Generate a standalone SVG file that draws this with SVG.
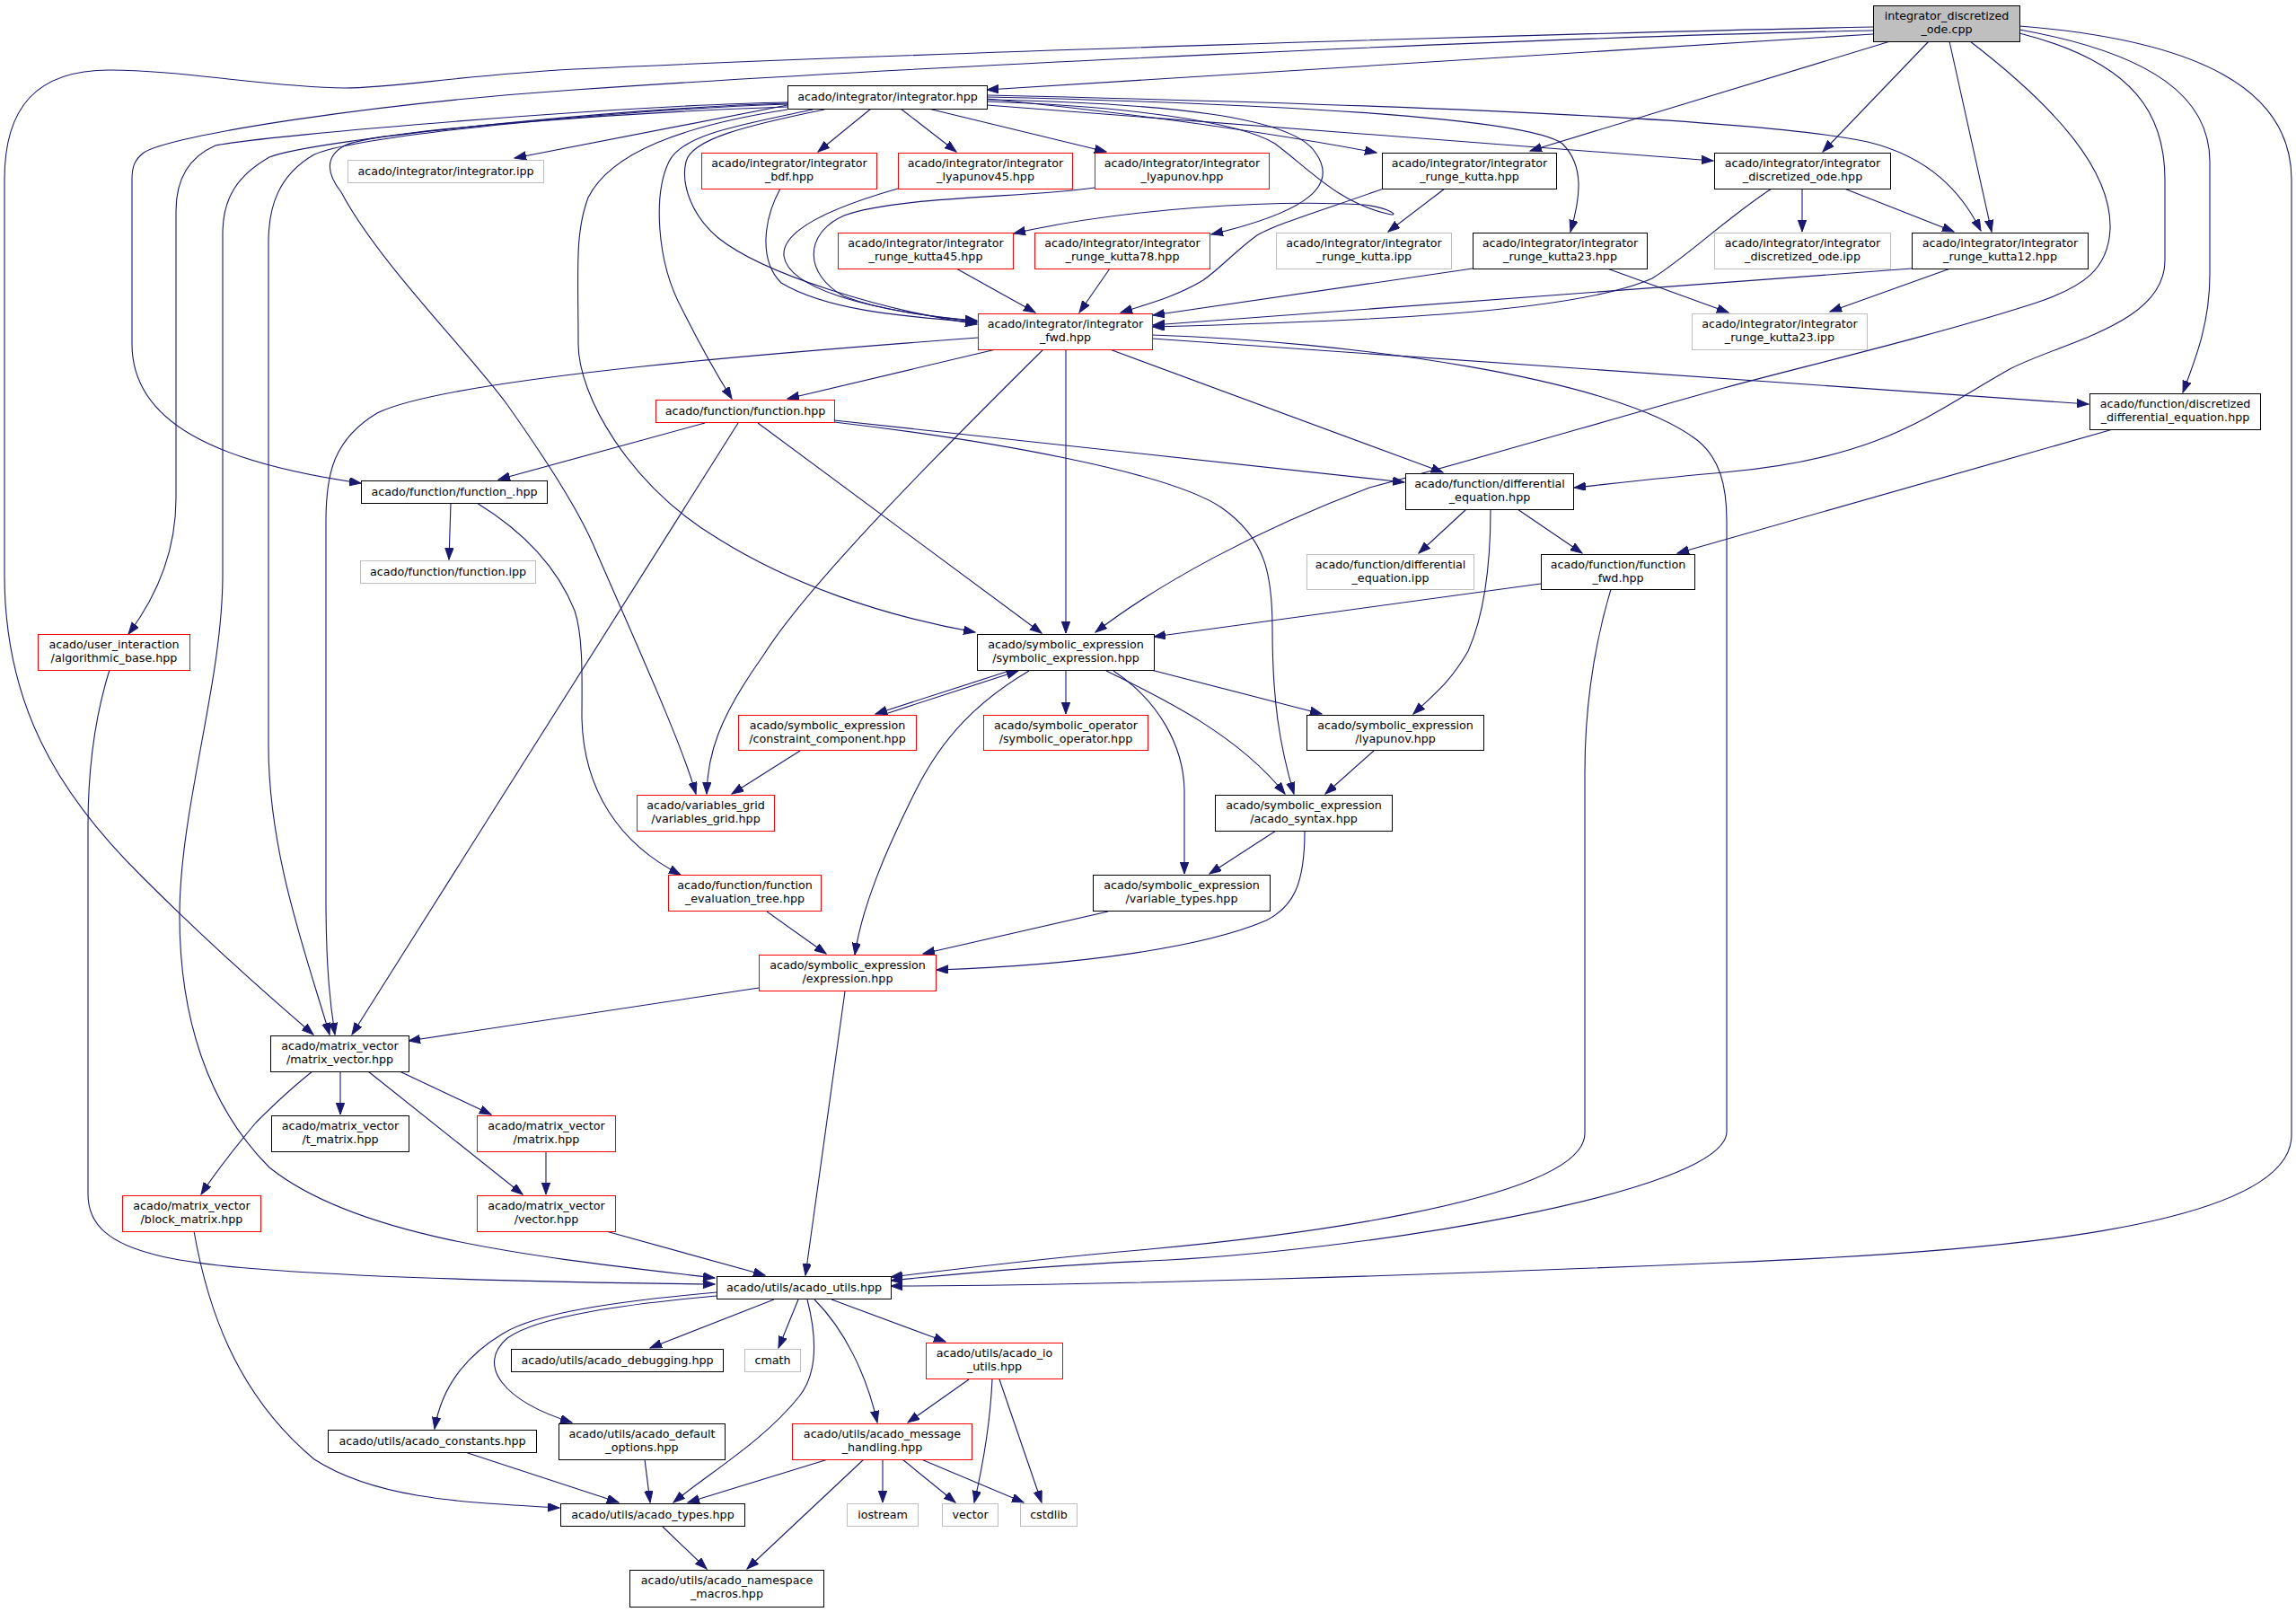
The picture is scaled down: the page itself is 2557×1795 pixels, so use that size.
<svg xmlns="http://www.w3.org/2000/svg" width="2557" height="1795" viewBox="0 0 2557 1795">
<style>
.n rect{fill:#fff;stroke:#000;stroke-width:1}
.n.r rect{stroke:#f00}
.n.g rect{stroke:#bfbfbf}
.n.root rect{fill:#bfbfbf;stroke:#000}
text{font-family:"DejaVu Sans",sans-serif;font-size:12.7px;text-anchor:middle;fill:#000}
#edges path{fill:none;stroke:#191970;stroke-width:1.1;marker-end:url(#a)}
</style>
<defs>
<marker id="a" markerWidth="14" markerHeight="10" refX="13" refY="4.7" orient="auto" markerUnits="userSpaceOnUse">
<path d="M0,0 L13,4.7 L0,9.4 z" fill="#191970" stroke="#191970" stroke-width="1"/>
</marker>
</defs>
<rect x="0" y="0" width="2557" height="1795" fill="#fff"/>
<g id="edges">
<path d="M2086,38 L1099,100"/>
<path d="M2086,30 C1700,38 1000,60 640,77 C510,84 440,98 384,98 C300,97 200,78 122,78 C40,78 5,120 5,200 L5,640 C5,780 60,880 160,978 C230,1048 300,1110 349,1152"/>
<path d="M2086,34 C1700,42 1000,75 640,100 C420,115 190,150 160,170 C150,178 147,185 147,200 L147,383 C147,470 240,515 402,538"/>
<path d="M2105,46 L1704,168"/>
<path d="M2148,46 L2030,169"/>
<path d="M2171,46 L2218,258"/>
<path d="M2194,46 C2290,120 2352,190 2350,255 C2348,300 2320,320 2265,338 C2150,375 2000,410 1920,432 C1800,465 1650,510 1525,543 C1400,590 1290,650 1220,704"/>
<path d="M2249,29 C2450,45 2552,100 2552,200 L2552,1264 C2552,1370 2200,1395 1920,1406 C1600,1420 1200,1432 992,1432"/>
<path d="M2249,37 C2380,70 2411,130 2411,200 L2411,290 C2411,360 2300,380 2240,410 C2150,460 2100,510 1920,526 C1850,532 1800,538 1753,543"/>
<path d="M2249,33 C2400,60 2461,110 2461,180 L2461,306 C2461,360 2445,400 2431,437"/>
<path d="M877,117 L573,176"/>
<path d="M970,121 L911,169"/>
<path d="M1003,121 L1065,169"/>
<path d="M1034,121 L1232,169"/>
<path d="M1099,110 C1250,125 1400,145 1533,170"/>
<path d="M1099,113 C1250,118 1380,135 1420,160 C1460,190 1490,225 1545,238 C1560,242 1550,232 1520,228 C1420,222 1250,232 1129,260"/>
<path d="M1099,111 C1300,115 1440,130 1465,170 C1490,205 1460,235 1349,261"/>
<path d="M1099,108 C1400,115 1700,130 1740,160 C1765,185 1760,220 1749,258"/>
<path d="M1099,117 L1908,179"/>
<path d="M1099,106 C1500,115 1950,130 2080,158 C2150,175 2185,215 2206,257"/>
<path d="M918,122 C830,140 770,155 764,180 C758,205 770,240 800,265 C850,305 980,345 1088,361"/>
<path d="M905,122 C820,140 760,150 745,180 C728,215 730,290 760,345 C780,385 800,420 815,444"/>
<path d="M877,119 C700,125 420,145 384,162 C360,175 365,195 380,214 C420,290 520,390 563,448 C600,500 640,560 660,605 C710,720 760,830 775,884"/>
<path d="M877,122 C760,140 680,170 655,220 C640,260 644,300 644,383 C644,440 700,540 800,600 C880,650 980,685 1086,704"/>
<path d="M877,114 C700,117 300,150 240,162 C210,175 196,200 196,235 L196,555 C196,620 170,670 143,706"/>
<path d="M877,115 C700,120 350,155 300,175 C265,195 248,220 248,260 L248,640 C248,760 200,900 200,1020 C200,1130 230,1230 300,1300 C400,1380 600,1400 796,1423"/>
<path d="M877,116 C700,122 400,150 350,172 C310,195 299,230 299,270 L299,830 C299,950 340,1060 367,1152"/>
<path d="M1089,376 C900,390 500,420 420,460 C370,490 363,530 363,580 L363,1000 C363,1080 368,1120 373,1152"/>
<path d="M822,471 L392,1152"/>
<path d="M785,471 L555,534"/>
<path d="M844,471 L1160,705"/>
<path d="M929,468 L1564,537"/>
<path d="M929,470 C1100,490 1300,525 1360,565 C1410,600 1417,640 1417,700 C1417,780 1425,830 1441,884"/>
<path d="M1109,389 L877,444"/>
<path d="M1162,389 C1050,500 900,650 850,730 C800,800 788,840 787,884"/>
<path d="M1187,389 L1187,705"/>
<path d="M1236,389 L1607,526"/>
<path d="M1283,377 L2326,450"/>
<path d="M1283,373 C1500,380 1800,420 1890,490 C1915,510 1923,540 1923,580 L1923,1260 C1923,1330 1500,1395 1280,1404 C1150,1410 1050,1420 992,1426"/>
<path d="M1794,656 C1775,720 1765,790 1765,860 L1765,1262 C1765,1340 1400,1380 1280,1391 C1150,1402 1050,1415 992,1422"/>
<path d="M2007,210 L2007,258"/>
<path d="M2054,210 L2176,258"/>
<path d="M1973,210 C1920,245 1880,285 1840,310 C1750,350 1500,358 1284,364"/>
<path d="M1609,210 L1546,258"/>
<path d="M1541,210 C1470,235 1420,250 1400,262 C1375,280 1360,298 1340,312 C1310,330 1280,338 1248,348"/>
<path d="M1640,299 L1284,351"/>
<path d="M1790,299 L1925,348"/>
<path d="M2129,299 L1284,362"/>
<path d="M2172,299 L2038,347"/>
<path d="M1065,299 L1153,348"/>
<path d="M1236,299 L1202,348"/>
<path d="M869,210 C850,245 845,290 870,315 C920,345 1000,352 1088,359"/>
<path d="M1000,210 C930,230 870,255 873,285 C878,320 960,345 1088,358"/>
<path d="M1219,209 C1150,220 1000,218 940,240 C895,260 895,305 940,330 C980,345 1030,352 1088,357"/>
<path d="M502,560 L500,623"/>
<path d="M531,560 C580,590 620,630 640,680 C650,710 648,760 648,800 C650,880 690,940 758,974"/>
<path d="M1124,747 L975,795"/>
<path d="M983,796 L1134,747"/>
<path d="M1187,747 L1187,795"/>
<path d="M1282,746 L1472,795"/>
<path d="M1232,747 C1300,780 1380,820 1431,884"/>
<path d="M1240,747 C1290,780 1318,830 1319,880 L1319,973"/>
<path d="M1146,747 C1090,780 1050,820 1020,880 C985,950 960,1010 952,1063"/>
<path d="M891,836 L815,884"/>
<path d="M1530,836 L1476,884"/>
<path d="M1633,567 L1580,616"/>
<path d="M1660,567 C1660,620 1655,680 1635,725 C1615,760 1595,775 1574,795"/>
<path d="M1690,567 L1762,616"/>
<path d="M2353,478 L1868,616"/>
<path d="M1716,650 L1285,709"/>
<path d="M1421,925 L1347,973"/>
<path d="M1453,926 C1453,985 1440,1010 1410,1025 C1340,1055 1200,1075 1043,1080"/>
<path d="M1234,1015 L1028,1062"/>
<path d="M854,1015 L920,1062"/>
<path d="M845,1100 L455,1159"/>
<path d="M941,1104 L897,1420"/>
<path d="M122,746 C105,800 98,860 98,920 L98,1330 C98,1400 200,1410 400,1420 C560,1427 700,1429 796,1430"/>
<path d="M379,1193 L379,1241"/>
<path d="M348,1193 C320,1215 300,1235 285,1250 C260,1280 240,1305 224,1330"/>
<path d="M410,1193 L582,1330"/>
<path d="M445,1193 L547,1241"/>
<path d="M608,1282 L608,1330"/>
<path d="M675,1371 L852,1420"/>
<path d="M216,1371 C230,1450 260,1550 350,1625 C420,1670 520,1673 623,1679"/>
<path d="M862,1447 L724,1501"/>
<path d="M889,1447 L867,1501"/>
<path d="M899,1447 C910,1490 910,1530 890,1555 C850,1605 790,1640 750,1673"/>
<path d="M907,1447 C940,1480 965,1530 977,1584"/>
<path d="M926,1447 L1053,1494"/>
<path d="M798,1439 C700,1448 600,1460 560,1485 C510,1515 490,1555 484,1591"/>
<path d="M798,1443 C700,1452 600,1465 565,1490 C530,1520 560,1560 637,1584"/>
<path d="M1079,1536 L1011,1584"/>
<path d="M1105,1536 C1103,1580 1095,1630 1085,1673"/>
<path d="M1113,1536 L1160,1673"/>
<path d="M922,1625 L766,1673"/>
<path d="M962,1625 L832,1747"/>
<path d="M983,1625 L983,1673"/>
<path d="M1005,1625 L1064,1673"/>
<path d="M1026,1625 L1140,1673"/>
<path d="M518,1617 L689,1673"/>
<path d="M718,1625 L724,1673"/>
<path d="M738,1700 L787,1747"/>
</g>
<g id="root" class="n root"><rect x="2086.5" y="6.5" width="163" height="40"/><text x="2168" y="22">integrator_discretized</text><text x="2168" y="37">_ode.cpp</text></g>
<g id="int" class="n"><rect x="877.5" y="95.5" width="222" height="26"/><text x="988.5" y="112">acado/integrator/integrator.hpp</text></g>
<g id="bdf" class="n r"><rect x="781.5" y="170.5" width="195" height="40"/><text x="879" y="186">acado/integrator/integrator</text><text x="879" y="201">_bdf.hpp</text></g>
<g id="ly45" class="n r"><rect x="1000.5" y="170.5" width="194" height="40"/><text x="1097.5" y="186">acado/integrator/integrator</text><text x="1097.5" y="201">_lyapunov45.hpp</text></g>
<g id="ly" class="n r"><rect x="1219.5" y="170.5" width="194" height="40"/><text x="1316.5" y="186">acado/integrator/integrator</text><text x="1316.5" y="201">_lyapunov.hpp</text></g>
<g id="rk" class="n"><rect x="1539.5" y="170.5" width="194" height="40"/><text x="1636.5" y="186">acado/integrator/integrator</text><text x="1636.5" y="201">_runge_kutta.hpp</text></g>
<g id="dode" class="n"><rect x="1909.5" y="170.5" width="196" height="40"/><text x="2007.5" y="186">acado/integrator/integrator</text><text x="2007.5" y="201">_discretized_ode.hpp</text></g>
<g id="iipp" class="n g"><rect x="387.5" y="178.5" width="218" height="25"/><text x="496.5" y="195">acado/integrator/integrator.ipp</text></g>
<g id="rk45" class="n r"><rect x="933.5" y="259.5" width="195" height="40"/><text x="1031" y="275">acado/integrator/integrator</text><text x="1031" y="290">_runge_kutta45.hpp</text></g>
<g id="rk78" class="n r"><rect x="1152.5" y="259.5" width="195" height="40"/><text x="1250" y="275">acado/integrator/integrator</text><text x="1250" y="290">_runge_kutta78.hpp</text></g>
<g id="rkipp" class="n g"><rect x="1421.5" y="259.5" width="195" height="40"/><text x="1519" y="275">acado/integrator/integrator</text><text x="1519" y="290">_runge_kutta.ipp</text></g>
<g id="rk23" class="n"><rect x="1640.5" y="259.5" width="194" height="40"/><text x="1737.5" y="275">acado/integrator/integrator</text><text x="1737.5" y="290">_runge_kutta23.hpp</text></g>
<g id="dodeipp" class="n g"><rect x="1909.5" y="259.5" width="196" height="40"/><text x="2007.5" y="275">acado/integrator/integrator</text><text x="2007.5" y="290">_discretized_ode.ipp</text></g>
<g id="rk12" class="n"><rect x="2129.5" y="259.5" width="196" height="40"/><text x="2227.5" y="275">acado/integrator/integrator</text><text x="2227.5" y="290">_runge_kutta12.hpp</text></g>
<g id="fwd" class="n r"><rect x="1089.5" y="349.5" width="194" height="40"/><text x="1186.5" y="365">acado/integrator/integrator</text><text x="1186.5" y="380">_fwd.hpp</text></g>
<g id="rk23ipp" class="n g"><rect x="1884.5" y="349.5" width="195" height="40"/><text x="1982" y="365">acado/integrator/integrator</text><text x="1982" y="380">_runge_kutta23.ipp</text></g>
<g id="func" class="n r"><rect x="730.5" y="445.5" width="199" height="25"/><text x="830" y="462">acado/function/function.hpp</text></g>
<g id="ddiff" class="n"><rect x="2327.5" y="438.5" width="190" height="40"/><text x="2422.5" y="454">acado/function/discretized</text><text x="2422.5" y="469">_differential_equation.hpp</text></g>
<g id="diffeq" class="n"><rect x="1565.5" y="527.5" width="187" height="40"/><text x="1659" y="543">acado/function/differential</text><text x="1659" y="558">_equation.hpp</text></g>
<g id="func_" class="n"><rect x="402.5" y="535.5" width="207" height="25"/><text x="506" y="552">acado/function/function_.hpp</text></g>
<g id="funcipp" class="n g"><rect x="401.5" y="624.5" width="195" height="25"/><text x="499" y="641">acado/function/function.ipp</text></g>
<g id="algo" class="n r"><rect x="42.5" y="706.5" width="169" height="40"/><text x="127" y="722">acado/user_interaction</text><text x="127" y="737">/algorithmic_base.hpp</text></g>
<g id="symexp" class="n"><rect x="1088.5" y="706.5" width="197" height="40"/><text x="1187" y="722">acado/symbolic_expression</text><text x="1187" y="737">/symbolic_expression.hpp</text></g>
<g id="diffipp" class="n g"><rect x="1455.5" y="617.5" width="186" height="39"/><text x="1548.5" y="633">acado/function/differential</text><text x="1548.5" y="648">_equation.ipp</text></g>
<g id="ffwd" class="n"><rect x="1716.5" y="617.5" width="171" height="39"/><text x="1802" y="633">acado/function/function</text><text x="1802" y="648">_fwd.hpp</text></g>
<g id="cc" class="n r"><rect x="822.5" y="796.5" width="198" height="39"/><text x="921.5" y="812">acado/symbolic_expression</text><text x="921.5" y="827">/constraint_component.hpp</text></g>
<g id="symop" class="n r"><rect x="1095.5" y="796.5" width="183" height="39"/><text x="1187" y="812">acado/symbolic_operator</text><text x="1187" y="827">/symbolic_operator.hpp</text></g>
<g id="lyap" class="n"><rect x="1455.5" y="796.5" width="197" height="39"/><text x="1554" y="812">acado/symbolic_expression</text><text x="1554" y="827">/lyapunov.hpp</text></g>
<g id="vgrid" class="n r"><rect x="709.5" y="885.5" width="153" height="40"/><text x="786" y="901">acado/variables_grid</text><text x="786" y="916">/variables_grid.hpp</text></g>
<g id="syntax" class="n"><rect x="1353.5" y="885.5" width="197" height="40"/><text x="1452" y="901">acado/symbolic_expression</text><text x="1452" y="916">/acado_syntax.hpp</text></g>
<g id="evtree" class="n r"><rect x="744.5" y="974.5" width="170" height="40"/><text x="829.5" y="990">acado/function/function</text><text x="829.5" y="1005">_evaluation_tree.hpp</text></g>
<g id="vtypes" class="n"><rect x="1217.5" y="974.5" width="197" height="40"/><text x="1316" y="990">acado/symbolic_expression</text><text x="1316" y="1005">/variable_types.hpp</text></g>
<g id="expr" class="n r"><rect x="845.5" y="1063.5" width="197" height="40"/><text x="944" y="1079">acado/symbolic_expression</text><text x="944" y="1094">/expression.hpp</text></g>
<g id="mv" class="n"><rect x="301.5" y="1153.5" width="154" height="40"/><text x="378.5" y="1169">acado/matrix_vector</text><text x="378.5" y="1184">/matrix_vector.hpp</text></g>
<g id="tmat" class="n"><rect x="302.5" y="1242.5" width="153" height="40"/><text x="379" y="1258">acado/matrix_vector</text><text x="379" y="1273">/t_matrix.hpp</text></g>
<g id="mat" class="n r"><rect x="531.5" y="1242.5" width="154" height="40"/><text x="608.5" y="1258">acado/matrix_vector</text><text x="608.5" y="1273">/matrix.hpp</text></g>
<g id="block" class="n r"><rect x="136.5" y="1331.5" width="154" height="40"/><text x="213.5" y="1347">acado/matrix_vector</text><text x="213.5" y="1362">/block_matrix.hpp</text></g>
<g id="vec" class="n r"><rect x="531.5" y="1331.5" width="154" height="40"/><text x="608.5" y="1347">acado/matrix_vector</text><text x="608.5" y="1362">/vector.hpp</text></g>
<g id="utils" class="n"><rect x="798.5" y="1421.5" width="194" height="25"/><text x="895.5" y="1438">acado/utils/acado_utils.hpp</text></g>
<g id="debug" class="n"><rect x="569.5" y="1502.5" width="236" height="25"/><text x="687.5" y="1519">acado/utils/acado_debugging.hpp</text></g>
<g id="cmath" class="n g"><rect x="829.5" y="1502.5" width="62" height="25"/><text x="860.5" y="1519">cmath</text></g>
<g id="io" class="n r"><rect x="1031.5" y="1495.5" width="152" height="40"/><text x="1107.5" y="1511">acado/utils/acado_io</text><text x="1107.5" y="1526">_utils.hpp</text></g>
<g id="const" class="n"><rect x="365.5" y="1592.5" width="232" height="25"/><text x="481.5" y="1609">acado/utils/acado_constants.hpp</text></g>
<g id="defopt" class="n"><rect x="622.5" y="1585.5" width="185" height="40"/><text x="715" y="1601">acado/utils/acado_default</text><text x="715" y="1616">_options.hpp</text></g>
<g id="msg" class="n r"><rect x="882.5" y="1585.5" width="200" height="40"/><text x="982.5" y="1601">acado/utils/acado_message</text><text x="982.5" y="1616">_handling.hpp</text></g>
<g id="types" class="n"><rect x="624.5" y="1674.5" width="205" height="25"/><text x="727" y="1691">acado/utils/acado_types.hpp</text></g>
<g id="iostream" class="n g"><rect x="943.5" y="1674.5" width="79" height="25"/><text x="983" y="1691">iostream</text></g>
<g id="vector" class="n g"><rect x="1049.5" y="1674.5" width="62" height="25"/><text x="1080.5" y="1691">vector</text></g>
<g id="cstdlib" class="n g"><rect x="1136.5" y="1674.5" width="63" height="25"/><text x="1168" y="1691">cstdlib</text></g>
<g id="ns" class="n"><rect x="701.5" y="1748.5" width="216" height="41"/><text x="809.5" y="1764">acado/utils/acado_namespace</text><text x="809.5" y="1779">_macros.hpp</text></g>
</svg>
